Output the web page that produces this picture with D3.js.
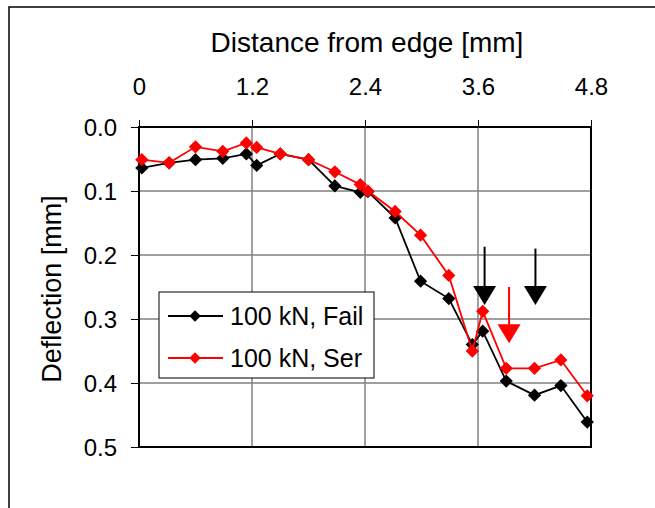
<!DOCTYPE html>
<html>
<head>
<meta charset="utf-8">
<script src="https://cdn.jsdelivr.net/npm/d3@7/dist/d3.min.js"></script>
<style>
  html, body { margin: 0; padding: 0; background: #fff; }
  svg { display: block; font-family: "Liberation Sans", Arial, sans-serif; }
</style>
</head>
<body>
<svg id="chart" width="655" height="508"></svg>
<script>
// Measurement positions along the specimen (mm from the edge)
const distance = [0.03, 0.32, 0.60, 0.89, 1.14, 1.25, 1.50, 1.80, 2.08, 2.35, 2.43, 2.72, 2.99, 3.29, 3.54, 3.65, 3.90, 4.20, 4.48, 4.76];
// Deflections (mm) at 100 kN
const failDeflection = [0.064, 0.056, 0.051, 0.049, 0.042, 0.060, 0.042, 0.051, 0.092, 0.102, 0.101, 0.142, 0.241, 0.268, 0.340, 0.319, 0.397, 0.419, 0.404, 0.461];
const serDeflection  = [0.051, 0.056, 0.031, 0.038, 0.025, 0.032, 0.042, 0.051, 0.070, 0.090, 0.100, 0.132, 0.169, 0.232, 0.350, 0.288, 0.377, 0.377, 0.364, 0.420];
const seriesNames = ["100 kN, Fail", "100 kN, Ser"];
const seriesColors = ["#000000", "#ff0000"];
const xTicks = [0, 1.2, 2.4, 3.6, 4.8];
const yTicks = [0.0, 0.1, 0.2, 0.3, 0.4, 0.5];
// Downward arrows marking failure locations: x, top, tip (data units)
const arrowX   = [3.67, 4.21, 3.93];
const arrowTop = [0.187, 0.190, 0.250];
const arrowTip = [0.278, 0.278, 0.338];
const arrowColors = ["#000000", "#000000", "#ff0000"];

const svg = d3.select("#chart");
const L = 139, R = 591, T = 127, B = 447;
const x = d3.scaleLinear().domain([0, 4.8]).range([L, R]);
const y = d3.scaleLinear().domain([0, 0.5]).range([T, B]);

// outer chart frame (open to the right and bottom)
svg.append("rect").attr("x", 9).attr("y", 7).attr("width", 700).attr("height", 560)
  .attr("fill", "none").attr("stroke", "#000").attr("stroke-width", 1.5);

// gridlines
svg.append("g").selectAll("line").data(yTicks.slice(1, -1)).join("line")
  .attr("x1", L).attr("x2", R).attr("y1", d => y(d)).attr("y2", d => y(d))
  .attr("stroke", "#404040").attr("stroke-width", 1);
svg.append("g").selectAll("line").data(xTicks.slice(1, -1)).join("line")
  .attr("x1", d => x(d)).attr("x2", d => x(d)).attr("y1", T).attr("y2", B)
  .attr("stroke", "#808080").attr("stroke-width", 1.5);

// plot border
svg.append("rect").attr("x", L).attr("y", T).attr("width", R - L).attr("height", B - T)
  .attr("fill", "none").attr("stroke", "#000").attr("stroke-width", 2);

// axes
const xAxis = svg.append("g").attr("transform", `translate(0,${T})`)
  .call(d3.axisTop(x).tickValues(xTicks).tickSize(7).tickSizeOuter(0)
    .tickFormat(d => d === 0 ? "0" : d3.format(".1f")(d)));
xAxis.select(".domain").remove();
xAxis.selectAll("line").attr("stroke", "#000").attr("stroke-width", 1);
xAxis.selectAll("text").attr("y", -32).attr("dy", 0)
  .attr("font-size", 24).attr("fill", "#000").attr("font-family", "Liberation Sans, Arial, sans-serif");

const yAxis = svg.append("g").attr("transform", `translate(${L},0)`)
  .call(d3.axisLeft(y).tickValues(yTicks).tickSize(8).tickSizeOuter(0).tickFormat(d3.format(".1f")));
yAxis.select(".domain").remove();
yAxis.selectAll("line").attr("stroke", "#000").attr("stroke-width", 1);
yAxis.selectAll("text").attr("x", -22).attr("dy", "0.35em")
  .attr("font-size", 24).attr("fill", "#000").attr("font-family", "Liberation Sans, Arial, sans-serif");

// axis titles
svg.append("text").attr("x", (L + R) / 2 + 2).attr("y", 52).attr("text-anchor", "middle")
  .attr("font-size", 28).text("Distance from edge [mm]");
svg.append("text").attr("transform", `translate(61,${(T + B) / 2 + 2}) rotate(-90)`)
  .attr("text-anchor", "middle").attr("font-size", 27).text("Deflection [mm]");

// series: diamond markers drawn as squares turned 45 degrees
const diamond = d3.symbol().type(d3.symbolSquare).size(88);
const seriesData = [failDeflection, serDeflection].map((vals, i) =>
  ({ name: seriesNames[i], color: seriesColors[i], pts: distance.map((d, j) => [d, vals[j]]) }));
const line = d3.line().x(d => x(d[0])).y(d => y(d[1]));

seriesData.forEach(s => {
  const g = svg.append("g");
  g.append("path").attr("d", line(s.pts)).attr("fill", "none")
    .attr("stroke", s.color).attr("stroke-width", 1.8);
  g.selectAll("path.m").data(s.pts).join("path").attr("class", "m")
    .attr("transform", d => `translate(${x(d[0])},${y(d[1])}) rotate(45)`)
    .attr("d", diamond).attr("fill", s.color);
});

// arrows
arrowX.forEach((ax, i) => {
  const g = svg.append("g");
  const cx = x(ax), yTop = y(arrowTop[i]), yTip = y(arrowTip[i]);
  const head = 19, half = 11.5;
  g.append("line").attr("x1", cx).attr("x2", cx).attr("y1", yTop).attr("y2", yTip - head + 1)
    .attr("stroke", arrowColors[i]).attr("stroke-width", 2);
  g.append("path")
    .attr("d", `M${cx - half},${yTip - head}L${cx + half},${yTip - head}L${cx},${yTip}Z`)
    .attr("fill", arrowColors[i]);
});

// legend
const legend = svg.append("g");
legend.append("rect").attr("x", 159).attr("y", 292).attr("width", 215).attr("height", 86)
  .attr("fill", "#fff").attr("stroke", "#000").attr("stroke-width", 1);
seriesData.forEach((s, i) => {
  const ly = 316 + i * 42;
  legend.append("line").attr("x1", 168).attr("x2", 223).attr("y1", ly).attr("y2", ly)
    .attr("stroke", s.color).attr("stroke-width", 1.8);
  legend.append("path").attr("transform", `translate(195,${ly}) rotate(45)`)
    .attr("d", d3.symbol().type(d3.symbolSquare).size(66)).attr("fill", s.color);
  legend.append("text").attr("x", 230).attr("y", ly).attr("dy", "0.36em")
    .attr("font-size", 25).text(s.name);
});
</script>
</body>
</html>
